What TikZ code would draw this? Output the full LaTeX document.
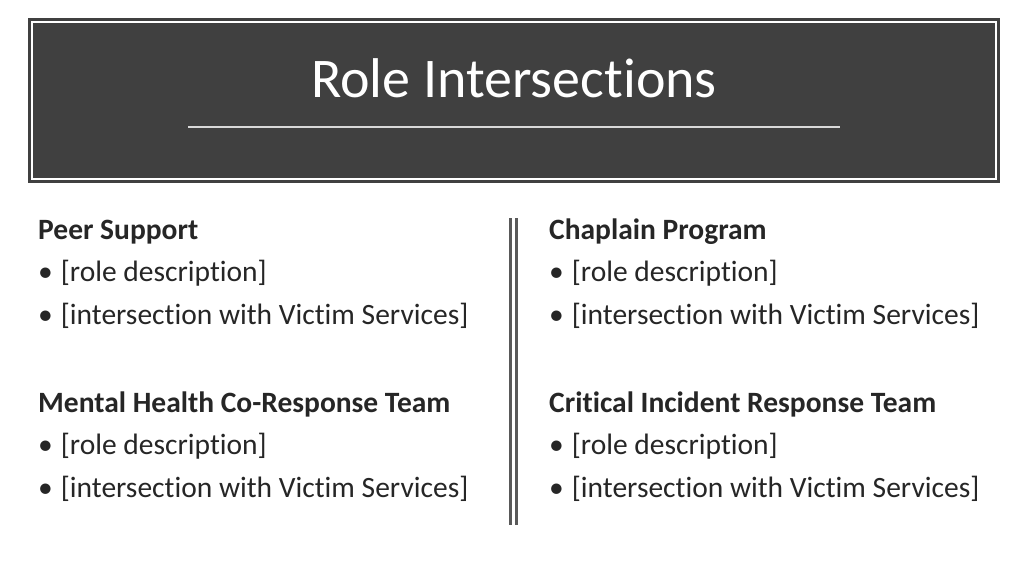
\documentclass[tikz,border=0pt]{standalone}
\usepackage{fontspec}
\setmainfont[Ligatures=NoCommon]{Carlito}
\begin{document}
\begin{tikzpicture}[x=1pt,y=-1pt,
 head/.style={anchor=base west,font=\fontsize{29.5}{32}\selectfont\bfseries,text=black!85,inner sep=0},
 item/.style={anchor=base west,font=\fontsize{29.5}{32}\selectfont,text=black!85,inner sep=0}]
\useasboundingbox[fill=white] (0,0) rectangle (1024,576);
\fill[black!75] (28,18) rectangle (1000,183);
\draw[white,line width=1.2] (32,22) rectangle (996,179);
\node[text=white,font=\fontsize{56}{60}\selectfont] (title) at (514,78) {Role Intersections};
\draw[white!85!black,line width=1.2] (188,127) -- (840,127);
\draw[black!65,line width=3] (510,218) -- (510,525);
\draw[black!65,line width=3] (516,218) -- (516,525);
\foreach \x/\a/\b in {38/Peer Support/Mental Health Co-Response Team, 549/Chaplain Program/Critical Incident Response Team}{
 \node[head] (h1\x) at (\x,239) {\a};
 \node[item] (r1\x) at (\x,281) {•\hspace{8pt}[role description]};
 \node[item] (i1\x) at (\x,324) {•\hspace{8pt}[intersection with Victim Services]};
 \node[head] (h2\x) at (\x,412) {\b};
 \node[item] (r2\x) at (\x,454) {•\hspace{8pt}[role description]};
 \node[item] (i2\x) at (\x,497) {•\hspace{8pt}[intersection with Victim Services]};
}
\end{tikzpicture}
\end{document}
